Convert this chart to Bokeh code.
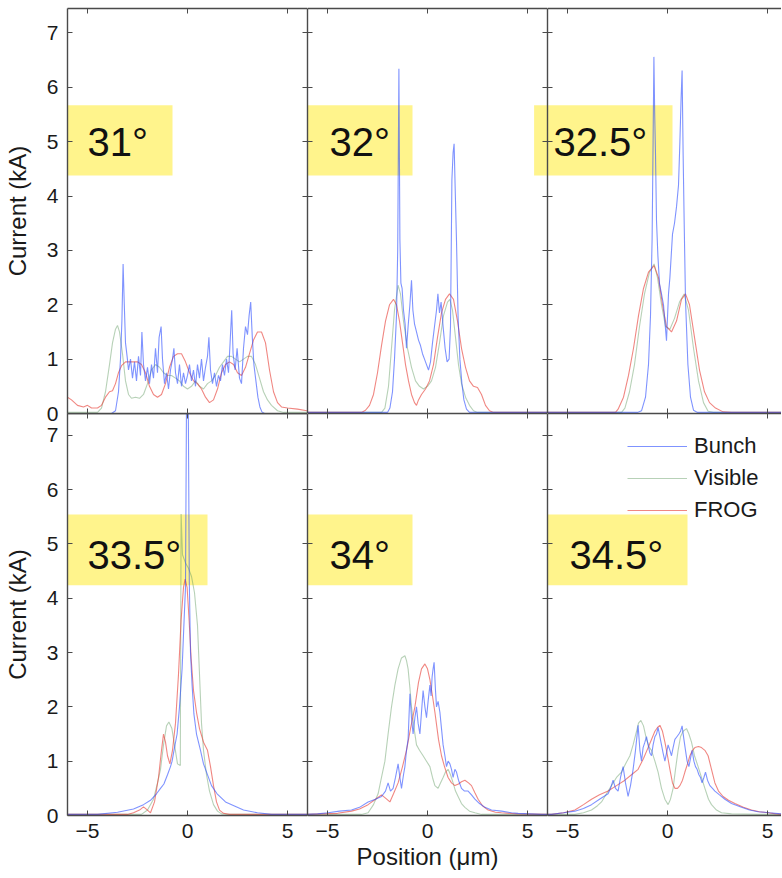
from bokeh.plotting import figure
from bokeh.models import (Range1d, LinearAxis, FixedTicker, BoxAnnotation, Label,
                          Legend, LegendItem, GridBox)
from bokeh.embed import file_html
from bokeh.resources import INLINE

# ---------------- data (position um, current kA) ----------------
angles = ["31°", "32°", "32.5°", "33.5°", "34°", "34.5°"]
series_names = ["Bunch", "Visible", "FROG"]
x_ticks = [-5, 0, 5]
y_ticks = [0, 1, 2, 3, 4, 5, 6, 7]

bunch_31 = [(-6.0, 0.0), (-3.8, 0.0), (-3.6, 0.05), (-3.45, 0.4), (-3.35, 1.0), (-3.28, 1.7), (-3.22, 2.75),
            (-3.16, 2.0), (-3.1, 1.3), (-3.02, 1.05), (-2.95, 0.8), (-2.85, 1.0), (-2.75, 0.65), (-2.65, 0.95),
            (-2.55, 0.6), (-2.45, 1.05), (-2.35, 0.7), (-2.28, 1.5), (-2.2, 0.9), (-2.1, 0.6), (-2.0, 0.85),
            (-1.9, 0.55), (-1.8, 0.9), (-1.7, 0.65), (-1.6, 1.2), (-1.5, 0.75), (-1.42, 1.4), (-1.32, 1.6),
            (-1.25, 1.0), (-1.15, 0.55), (-1.05, 0.75), (-0.95, 0.45), (-0.85, 0.8), (-0.75, 1.0), (-0.68, 1.2),
            (-0.6, 0.75), (-0.5, 0.55), (-0.4, 0.9), (-0.3, 0.5), (-0.2, 0.75), (-0.1, 0.55), (0.0, 0.7),
            (0.1, 0.9), (0.2, 0.6), (0.3, 0.8), (0.4, 0.5), (0.5, 0.9), (0.6, 0.65), (0.7, 1.0), (0.8, 0.6),
            (0.9, 0.85), (1.0, 1.05), (1.07, 1.4), (1.15, 0.8), (1.25, 0.55), (1.35, 0.75), (1.45, 0.5),
            (1.55, 0.7), (1.65, 0.6), (1.75, 0.9), (1.85, 0.7), (1.95, 1.0), (2.05, 0.75), (2.13, 1.3),
            (2.21, 1.9), (2.28, 1.1), (2.38, 0.8), (2.48, 1.2), (2.6, 0.65), (2.7, 0.55), (2.8, 1.2),
            (2.9, 1.6), (3.0, 1.45), (3.08, 1.8), (3.16, 2.05), (3.24, 1.4), (3.32, 0.9), (3.42, 0.6),
            (3.52, 0.3), (3.62, 0.12), (3.72, 0.03), (3.85, 0.0), (6.0, 0.0)]
visible_31 = [(-6.0, 0.02), (-4.5, 0.02), (-4.3, 0.1), (-4.1, 0.4), (-3.9, 0.9), (-3.75, 1.3), (-3.6, 1.55),
              (-3.5, 1.62), (-3.4, 1.5), (-3.25, 1.1), (-3.1, 0.6), (-2.95, 0.35), (-2.8, 0.28), (-2.6, 0.3),
              (-2.4, 0.28), (-2.2, 0.35), (-2.0, 0.55), (-1.8, 0.8), (-1.6, 0.9), (-1.4, 0.85), (-1.2, 0.75),
              (-1.0, 0.7), (-0.8, 0.7), (-0.6, 0.65), (-0.4, 0.6), (-0.2, 0.5), (0.0, 0.45), (0.2, 0.5),
              (0.4, 0.6), (0.6, 0.5), (0.8, 0.45), (1.0, 0.55), (1.2, 0.6), (1.4, 0.7), (1.6, 0.85),
              (1.8, 0.95), (2.0, 1.05), (2.2, 1.05), (2.4, 1.0), (2.6, 0.95), (2.8, 1.0), (3.0, 1.05),
              (3.2, 1.05), (3.4, 0.9), (3.6, 0.65), (3.8, 0.4), (4.0, 0.25), (4.2, 0.15), (4.5, 0.05),
              (4.8, 0.02), (6.0, 0.02)]
frog_31 = [(-6.0, 0.3), (-5.8, 0.25), (-5.5, 0.15), (-5.2, 0.12), (-5.0, 0.15), (-4.8, 0.1), (-4.5, 0.1),
           (-4.3, 0.15), (-4.1, 0.3), (-3.9, 0.4), (-3.75, 0.42), (-3.6, 0.55), (-3.45, 0.75), (-3.3, 0.88),
           (-3.1, 0.95), (-2.8, 0.95), (-2.5, 0.95), (-2.3, 0.9), (-2.1, 0.75), (-1.9, 0.5), (-1.7, 0.35),
           (-1.5, 0.3), (-1.3, 0.35), (-1.1, 0.55), (-0.9, 0.85), (-0.7, 1.05), (-0.5, 1.1), (-0.3, 1.1),
           (-0.1, 0.95), (0.1, 0.75), (0.3, 0.6), (0.5, 0.55), (0.7, 0.45), (0.9, 0.3), (1.1, 0.2),
           (1.3, 0.25), (1.5, 0.45), (1.7, 0.75), (1.9, 0.9), (2.1, 0.95), (2.3, 0.9), (2.5, 0.75),
           (2.7, 0.7), (2.9, 0.85), (3.1, 1.1), (3.3, 1.35), (3.5, 1.5), (3.7, 1.5), (3.9, 1.3), (4.1, 0.8),
           (4.3, 0.4), (4.5, 0.2), (4.7, 0.12), (5.0, 0.1), (5.5, 0.08), (6.0, 0.05)]

bunch_32 = [(-6.0, 0.02), (-2.0, 0.02), (-1.88, 0.1), (-1.75, 0.4), (-1.65, 1.0), (-1.55, 1.8), (-1.49, 3.0),
            (-1.43, 6.34), (-1.38, 3.2), (-1.33, 2.4), (-1.27, 2.3), (-1.2, 1.9), (-1.12, 1.65), (-1.05, 1.2),
            (-0.97, 1.6), (-0.88, 2.0), (-0.8, 2.45), (-0.73, 1.9), (-0.65, 1.65), (-0.55, 1.5), (-0.45, 1.35),
            (-0.35, 1.25), (-0.25, 1.1), (-0.15, 1.0), (-0.05, 0.9), (0.05, 0.8), (0.15, 0.95), (0.25, 1.3),
            (0.35, 1.6), (0.45, 1.9), (0.52, 2.2), (0.6, 1.85), (0.68, 2.05), (0.78, 1.6), (0.88, 1.2),
            (0.98, 0.95), (1.08, 1.0), (1.15, 1.6), (1.22, 4.3), (1.28, 4.8), (1.33, 4.96), (1.38, 4.2),
            (1.45, 3.18), (1.53, 1.77), (1.62, 1.0), (1.72, 0.55), (1.82, 0.25), (1.95, 0.08), (2.1, 0.02),
            (6.0, 0.02)]
visible_32 = [(-6.0, 0.02), (-2.3, 0.02), (-2.13, 0.1), (-1.95, 0.5), (-1.8, 1.2), (-1.65, 1.9), (-1.47, 2.36),
              (-1.35, 2.2), (-1.2, 1.7), (-1.0, 1.2), (-0.8, 0.85), (-0.6, 0.6), (-0.4, 0.5), (-0.2, 0.45),
              (0.0, 0.5), (0.2, 0.6), (0.4, 0.85), (0.6, 1.3), (0.8, 1.8), (1.0, 2.05), (1.12, 2.1),
              (1.25, 1.9), (1.4, 1.4), (1.55, 0.9), (1.7, 0.55), (1.9, 0.3), (2.1, 0.15), (2.3, 0.05),
              (2.5, 0.02), (6.0, 0.02)]
frog_32 = [(-6.0, 0.02), (-3.3, 0.02), (-3.1, 0.06), (-2.9, 0.15), (-2.7, 0.35), (-2.5, 0.75), (-2.3, 1.25),
           (-2.1, 1.7), (-1.9, 2.0), (-1.7, 2.1), (-1.55, 2.0), (-1.4, 1.7), (-1.25, 1.3), (-1.1, 0.9),
           (-0.95, 0.6), (-0.8, 0.35), (-0.65, 0.2), (-0.55, 0.15), (-0.45, 0.25), (-0.3, 0.35), (-0.1, 0.45),
           (0.1, 0.6), (0.3, 0.9), (0.5, 1.4), (0.7, 1.85), (0.9, 2.1), (1.1, 2.2), (1.3, 2.1), (1.5, 1.7),
           (1.7, 1.2), (1.9, 0.85), (2.1, 0.6), (2.3, 0.5), (2.5, 0.48), (2.7, 0.35), (2.9, 0.15),
           (3.1, 0.05), (3.3, 0.02), (6.0, 0.02)]

bunch_325 = [(-6.0, 0.02), (-1.5, 0.02), (-1.3, 0.05), (-1.1, 0.3), (-0.95, 0.9), (-0.85, 1.8), (-0.77, 3.2),
             (-0.72, 5.0), (-0.68, 6.56), (-0.64, 5.5), (-0.6, 4.78), (-0.55, 3.55), (-0.48, 2.9), (-0.4, 2.39),
             (-0.3, 2.2), (-0.2, 2.0), (-0.05, 1.34), (0.05, 2.2), (0.12, 2.5), (0.25, 3.3), (0.35, 3.5),
             (0.45, 3.8), (0.55, 4.2), (0.62, 5.0), (0.68, 5.8), (0.73, 6.31), (0.78, 4.8), (0.83, 3.6),
             (0.9, 2.08), (1.02, 0.9), (1.15, 0.3), (1.3, 0.06), (1.5, 0.02), (6.0, 0.02)]
visible_325 = [(-6.0, 0.02), (-2.3, 0.02), (-2.13, 0.1), (-1.9, 0.4), (-1.65, 0.9), (-1.4, 1.6), (-1.15, 2.2),
               (-0.9, 2.6), (-0.67, 2.75), (-0.5, 2.5), (-0.3, 2.0), (-0.1, 1.6), (0.12, 1.55), (0.35, 1.75),
               (0.6, 2.05), (0.83, 2.2), (1.05, 1.9), (1.3, 1.2), (1.55, 0.6), (1.8, 0.2), (2.03, 0.04),
               (2.3, 0.02), (6.0, 0.02)]
frog_325 = [(-6.0, 0.02), (-2.6, 0.02), (-2.47, 0.08), (-2.2, 0.3), (-1.95, 0.7), (-1.7, 1.2), (-1.45, 1.8),
            (-1.2, 2.3), (-0.95, 2.6), (-0.67, 2.72), (-0.45, 2.5), (-0.25, 2.0), (-0.05, 1.6), (0.2, 1.5),
            (0.45, 1.7), (0.7, 2.1), (0.9, 2.2), (1.1, 2.0), (1.35, 1.4), (1.6, 0.8), (1.85, 0.4), (2.1, 0.2),
            (2.4, 0.1), (2.78, 0.03), (3.2, 0.02), (6.0, 0.02)]

bunch_335 = [(-6.0, 0.02), (-4.5, 0.02), (-3.5, 0.06), (-2.7, 0.12), (-2.2, 0.2), (-1.85, 0.28), (-1.55, 0.4),
             (-1.35, 0.5), (-1.18, 0.58), (-1.0, 0.75), (-0.85, 0.9), (-0.77, 1.0), (-0.65, 1.25), (-0.52, 1.5),
             (-0.4, 2.0), (-0.27, 2.7), (-0.17, 3.6), (-0.1, 4.2), (-0.05, 7.6), (0.03, 8.2), (0.09, 4.3),
             (0.15, 3.0), (0.23, 2.4), (0.32, 1.87), (0.45, 1.5), (0.65, 1.2), (0.8, 0.95), (0.98, 0.77),
             (1.2, 0.55), (1.48, 0.4), (1.9, 0.25), (2.32, 0.18), (2.8, 0.1), (3.5, 0.05), (4.2, 0.02),
             (6.0, 0.02)]
visible_335 = [(-6.0, 0.02), (-2.3, 0.02), (-2.0, 0.1), (-1.7, 0.3), (-1.5, 0.6), (-1.35, 0.85), (-1.2, 1.3),
               (-1.05, 1.65), (-0.93, 1.72), (-0.78, 1.6), (-0.65, 1.3), (-0.5, 0.95), (-0.36, 0.92),
               (-0.32, 5.55), (-0.25, 4.8), (-0.1, 4.65), (0.05, 4.55), (0.2, 4.4), (0.35, 4.1), (0.5, 3.5),
               (0.6, 2.6), (0.7, 1.7), (0.8, 1.2), (0.95, 0.75), (1.1, 0.45), (1.3, 0.2), (1.5, 0.08),
               (1.7, 0.03), (2.0, 0.02), (6.0, 0.02)]
frog_335 = [(-6.0, 0.02), (-3.0, 0.02), (-2.7, 0.05), (-2.4, 0.1), (-2.2, 0.16), (-2.0, 0.1), (-1.85, 0.05),
            (-1.65, 0.25), (-1.45, 0.7), (-1.3, 1.2), (-1.2, 1.5), (-1.1, 1.35), (-1.0, 1.1), (-0.88, 0.95),
            (-0.75, 1.2), (-0.6, 1.7), (-0.45, 2.6), (-0.32, 3.6), (-0.2, 4.2), (-0.12, 4.35), (-0.02, 4.2),
            (0.08, 3.6), (0.18, 2.9), (0.3, 2.3), (0.45, 1.9), (0.6, 1.6), (0.8, 1.35), (1.0, 1.2),
            (1.15, 0.9), (1.3, 0.55), (1.45, 0.25), (1.6, 0.1), (1.8, 0.04), (2.1, 0.02), (6.0, 0.02)]

bunch_34 = [(-6.0, 0.02), (-5.5, 0.03), (-4.97, 0.05), (-4.4, 0.08), (-3.8, 0.1), (-3.4, 0.15), (-2.97, 0.25),
            (-2.6, 0.3), (-2.3, 0.35), (-2.1, 0.45), (-1.97, 0.6), (-1.85, 0.45), (-1.72, 0.5), (-1.6, 0.7),
            (-1.47, 0.95), (-1.38, 0.7), (-1.3, 0.5), (-1.2, 0.75), (-1.13, 0.9), (-1.05, 1.2), (-0.97, 1.4),
            (-0.88, 2.24), (-0.8, 1.8), (-0.72, 1.5), (-0.63, 1.8), (-0.55, 2.0), (-0.47, 1.7), (-0.38, 1.5),
            (-0.3, 1.9), (-0.22, 2.3), (-0.13, 2.0), (-0.05, 1.8), (0.03, 2.1), (0.12, 2.4), (0.18, 2.2),
            (0.23, 2.55), (0.28, 2.7), (0.33, 2.82), (0.4, 2.3), (0.45, 2.0), (0.53, 2.1), (0.62, 1.9),
            (0.7, 1.6), (0.78, 1.3), (0.87, 1.1), (0.95, 0.9), (1.03, 1.0), (1.12, 0.95), (1.2, 0.85),
            (1.28, 0.7), (1.37, 0.85), (1.45, 0.8), (1.55, 0.65), (1.7, 0.5), (1.85, 0.45), (2.03, 0.45),
            (2.2, 0.38), (2.37, 0.3), (2.6, 0.22), (2.87, 0.15), (3.2, 0.1), (3.7, 0.08), (4.2, 0.05),
            (4.53, 0.04), (5.1, 0.03), (5.7, 0.02), (6.0, 0.02)]
visible_34 = [(-6.0, 0.02), (-3.3, 0.02), (-2.97, 0.05), (-2.7, 0.2), (-2.47, 0.4), (-2.3, 0.7), (-2.13, 1.0),
              (-1.97, 1.5), (-1.8, 2.0), (-1.63, 2.4), (-1.47, 2.7), (-1.3, 2.9), (-1.13, 2.94), (-1.05, 2.85),
              (-0.97, 2.7), (-0.88, 2.35), (-0.8, 2.0), (-0.65, 1.55), (-0.55, 1.3), (-0.4, 1.2), (-0.22, 1.1),
              (-0.05, 1.0), (0.12, 0.9), (0.25, 0.7), (0.37, 0.55), (0.53, 0.5), (0.65, 0.6), (0.78, 0.7),
              (0.9, 0.8), (1.03, 0.85), (1.15, 0.75), (1.28, 0.6), (1.4, 0.45), (1.53, 0.35), (1.7, 0.22),
              (1.87, 0.15), (2.1, 0.08), (2.37, 0.05), (2.7, 0.02), (6.0, 0.02)]
frog_34 = [(-6.0, 0.02), (-4.5, 0.04), (-3.8, 0.08), (-3.4, 0.12), (-2.97, 0.2), (-2.6, 0.3), (-2.3, 0.38),
           (-2.1, 0.32), (-1.88, 0.25), (-1.7, 0.4), (-1.47, 0.6), (-1.25, 0.9), (-1.05, 1.2), (-0.85, 1.6),
           (-0.63, 2.0), (-0.45, 2.45), (-0.3, 2.7), (-0.13, 2.79), (0.0, 2.7), (0.12, 2.5), (0.25, 2.2),
           (0.37, 1.9), (0.55, 1.4), (0.7, 1.1), (0.85, 0.9), (1.03, 0.7), (1.2, 0.6), (1.37, 0.55),
           (1.55, 0.58), (1.7, 0.62), (1.87, 0.65), (2.05, 0.6), (2.2, 0.55), (2.37, 0.42), (2.53, 0.3),
           (2.75, 0.18), (3.03, 0.1), (3.4, 0.06), (3.7, 0.05), (4.5, 0.03), (6.0, 0.02)]

bunch_345 = [(-6.0, 0.02), (-5.8, 0.02), (-5.2, 0.05), (-4.63, 0.08), (-4.2, 0.13), (-3.8, 0.2), (-3.4, 0.3),
             (-2.97, 0.4), (-2.85, 0.5), (-2.72, 0.65), (-2.6, 0.5), (-2.47, 0.45), (-2.35, 0.7), (-2.22, 0.9),
             (-2.1, 0.6), (-1.97, 0.35), (-1.85, 0.55), (-1.72, 0.85), (-1.6, 1.2), (-1.47, 1.66), (-1.38, 1.2),
             (-1.3, 1.0), (-1.22, 1.25), (-1.13, 1.35), (-1.05, 1.45), (-0.97, 1.3), (-0.88, 1.15), (-0.8, 1.1),
             (-0.72, 1.3), (-0.63, 1.45), (-0.55, 1.5), (-0.47, 1.62), (-0.38, 1.45), (-0.3, 1.3), (-0.22, 1.15),
             (-0.13, 1.0), (-0.05, 1.15), (0.03, 1.3), (0.12, 1.2), (0.2, 1.1), (0.28, 1.25), (0.37, 1.4),
             (0.47, 1.45), (0.57, 1.5), (0.65, 1.55), (0.73, 1.65), (0.82, 1.4), (0.9, 1.2), (0.98, 1.0),
             (1.07, 0.9), (1.15, 1.05), (1.23, 1.2), (1.32, 1.0), (1.4, 0.9), (1.48, 0.85), (1.57, 0.75),
             (1.65, 0.7), (1.73, 0.6), (1.82, 0.7), (1.9, 0.8), (2.0, 0.65), (2.12, 0.55), (2.25, 0.5),
             (2.37, 0.45), (2.6, 0.38), (2.87, 0.3), (3.2, 0.22), (3.7, 0.15), (4.1, 0.1), (4.53, 0.07),
             (5.1, 0.05), (5.7, 0.03), (6.0, 0.02)]
visible_345 = [(-6.0, 0.02), (-4.63, 0.02), (-4.2, 0.05), (-3.8, 0.1), (-3.5, 0.18), (-3.3, 0.25), (-3.05, 0.4),
               (-2.8, 0.55), (-2.55, 0.7), (-2.3, 0.8), (-2.1, 0.95), (-1.88, 1.1), (-1.72, 1.3), (-1.55, 1.55),
               (-1.45, 1.7), (-1.33, 1.75), (-1.2, 1.65), (-1.05, 1.4), (-0.9, 1.25), (-0.8, 1.2), (-0.63, 1.0),
               (-0.47, 0.8), (-0.3, 0.5), (-0.13, 0.3), (0.03, 0.2), (0.15, 0.3), (0.28, 0.5), (0.4, 0.85),
               (0.53, 1.2), (0.65, 1.45), (0.78, 1.55), (0.95, 1.6), (1.07, 1.5), (1.2, 1.35), (1.35, 1.1),
               (1.53, 0.9), (1.7, 0.7), (1.87, 0.5), (2.05, 0.3), (2.2, 0.2), (2.45, 0.1), (2.7, 0.05),
               (3.2, 0.03), (4.53, 0.02), (6.0, 0.02)]
frog_345 = [(-6.0, 0.02), (-5.8, 0.02), (-5.2, 0.05), (-4.63, 0.1), (-4.2, 0.2), (-3.8, 0.3), (-3.4, 0.38),
            (-2.97, 0.45), (-2.55, 0.55), (-2.13, 0.65), (-1.8, 0.75), (-1.47, 0.85), (-1.2, 1.05), (-0.97, 1.25),
            (-0.8, 1.4), (-0.63, 1.55), (-0.5, 1.62), (-0.38, 1.66), (-0.25, 1.55), (-0.13, 1.35), (0.0, 1.1),
            (0.12, 0.85), (0.25, 0.6), (0.37, 0.5), (0.5, 0.5), (0.62, 0.55), (0.75, 0.65), (0.87, 0.8),
            (1.0, 0.95), (1.12, 1.1), (1.25, 1.2), (1.37, 1.25), (1.55, 1.27), (1.7, 1.25), (1.87, 1.2),
            (2.03, 1.1), (2.2, 0.85), (2.37, 0.6), (2.55, 0.45), (2.78, 0.35), (3.05, 0.28), (3.37, 0.22),
            (3.8, 0.15), (4.2, 0.1), (4.6, 0.07), (5.03, 0.05), (5.4, 0.03), (5.7, 0.02), (6.0, 0.02)]

panel_data = [
    (bunch_31, visible_31, frog_31),
    (bunch_32, visible_32, frog_32),
    (bunch_325, visible_325, frog_325),
    (bunch_335, visible_335, frog_335),
    (bunch_34, visible_34, frog_34),
    (bunch_345, visible_345, frog_345),
]

# ---------------- styling / layout ----------------
FONT = "Liberation Sans"
BORDER = "#4a4a4a"
BLUE, GREEN, RED = "#2a4bff", "#5f9a5f", "#e8463f"
YELLOW = "#fff48c"

FRAME_W = [240, 240, 234]
FRAME_H = [405, 402]
LEFT_BORDER = 67
TOP_BORDER = 8
BOTTOM_BORDER = 61
OVERLAP = 10
X_SPAN = 12.0
Y_TOP = [7.45, 7.4]

# label box geometry per panel: (box right edge, box bottom, box top, text x, text y)
label_boxes = [
    (-0.75, 4.38, 5.67, -5.0, 5.0),
    (-0.75, 4.38, 5.67, -4.9, 5.0),
    (0.25, 4.38, 5.67, -5.7, 5.0),
    (1.0, 4.24, 5.54, -5.0, 4.79),
    (-0.75, 4.24, 5.54, -4.9, 4.79),
    (1.0, 4.24, 5.54, -4.9, 4.79),
]


def add_axis(p, side, ticks, show_labels=False, label=None, line=True):
    ax = LinearAxis(ticker=FixedTicker(ticks=ticks))
    ax.major_tick_in = 5
    ax.major_tick_out = 0
    ax.major_tick_line_color = BORDER
    ax.major_tick_line_width = 1
    ax.minor_tick_line_color = None
    ax.axis_line_color = BORDER if line else None
    ax.axis_line_width = 1.4
    if show_labels:
        ax.major_label_text_font = FONT
        ax.major_label_text_font_size = "21px"
        ax.major_label_text_color = "#1a1a1a"
        ax.major_label_standoff = 8 if side in ("below", "above") else 9
    else:
        ax.major_label_overrides = {t: "" for t in ticks}
        ax.major_label_text_font_size = "0px"
        ax.major_label_standoff = 0
    if label:
        ax.axis_label = label
        ax.axis_label_text_font = FONT
        ax.axis_label_text_font_size = "24px"
        ax.axis_label_text_font_style = "normal"
        ax.axis_label_text_color = "#1a1a1a"
        ax.axis_label_standoff = 2 if side == "below" else 13
    p.add_layout(ax, side)
    return ax


figs = {}
for idx in range(6):
    row, col = divmod(idx, 3)
    fw, fh = FRAME_W[col], FRAME_H[row]
    bl = LEFT_BORDER if col == 0 else 0
    bt = TOP_BORDER if row == 0 else 0
    if row == 1:
        bb = BOTTOM_BORDER
    elif col == 0:
        bb = OVERLAP
    else:
        bb = 0
    px_per_um = FRAME_W[0] / X_SPAN
    x_end = -6 + fw / px_per_um
    p = figure(width=bl + fw, height=bt + fh + bb,
               x_range=Range1d(-6, x_end), y_range=Range1d(0, Y_TOP[row]),
               output_backend="svg", toolbar_location=None,
               x_axis_location=None, y_axis_location=None,
               min_border_left=bl, min_border_right=0, min_border_top=bt, min_border_bottom=bb,
               outline_line_color=None, background_fill_color="white",
               border_fill_color=None if (row == 0 and col == 0) else "white")
    p.grid.visible = False

    # axes (inward ticks on every side, MATLAB style)
    add_axis(p, "left", y_ticks, show_labels=(col == 0),
             label="Current (kA)" if col == 0 else None)
    if col < 2:
        add_axis(p, "right", y_ticks)
    add_axis(p, "above", x_ticks)
    add_axis(p, "below", x_ticks, show_labels=(row == 1),
             label="Position (μm)" if (row == 1 and col == 1) else None)

    # yellow angle label box
    bx_r, bx_b, bx_t, tx, ty = label_boxes[idx]
    p.add_layout(BoxAnnotation(left=-6, right=bx_r, bottom=bx_b, top=bx_t,
                               fill_color=YELLOW, fill_alpha=1.0, line_color=None,
                               level="underlay"))
    # the 32.5° box spills left into the 32° panel
    if idx == 1:
        r2, b2, t2, _, _ = label_boxes[2]
        p.add_layout(BoxAnnotation(left=5.33, right=6.5, bottom=b2, top=t2,
                                   fill_color=YELLOW, fill_alpha=1.0, line_color=None,
                                   level="underlay"))

    bunch, visible, frog = panel_data[idx]
    vx, vy = zip(*visible)
    fx, fy = zip(*frog)
    bxs, bys = zip(*bunch)
    r_vis = p.line(list(vx), list(vy), line_color=GREEN, line_width=1.1, line_alpha=0.45)
    r_frog = p.line(list(fx), list(fy), line_color=RED, line_width=1.1, line_alpha=0.65)
    r_bunch = p.line(list(bxs), list(bys), line_color=BLUE, line_width=1.1, line_alpha=0.6)

    p.add_layout(Label(x=tx, y=ty, text=angles[idx], text_font=FONT, text_font_size="40px",
                       text_baseline="middle", text_align="left", text_color="#111111"))

    if idx == 5:
        legend = Legend(items=[LegendItem(label=series_names[0], renderers=[r_bunch]),
                               LegendItem(label=series_names[1], renderers=[r_vis]),
                               LegendItem(label=series_names[2], renderers=[r_frog])],
                        location=(80, 291), orientation="vertical",
                        label_text_font=FONT, label_text_font_size="22px",
                        label_text_color="#1a1a1a",
                        glyph_width=60, glyph_height=28, label_height=28,
                        label_standoff=7, spacing=4, padding=3, margin=0,
                        border_line_color=None, background_fill_alpha=0.0)
        p.add_layout(legend)
    figs[(row, col)] = p

children = [
    (figs[(1, 0)], 1, 0, 2, 1),
    (figs[(1, 1)], 1, 1, 2, 1),
    (figs[(1, 2)], 1, 2, 2, 1),
    (figs[(0, 1)], 0, 1, 1, 1),
    (figs[(0, 2)], 0, 2, 1, 1),
    (figs[(0, 0)], 0, 0, 2, 1),
]
grid = GridBox(children=children,
               rows=[f"{TOP_BORDER + FRAME_H[0]}px", f"{OVERLAP}px",
                     f"{FRAME_H[1] + BOTTOM_BORDER - OVERLAP}px"],
               cols=[f"{LEFT_BORDER + FRAME_W[0]}px", f"{FRAME_W[1]}px", f"{FRAME_W[2]}px"],
               spacing=0)

open("out.html", "w").write(file_html(grid, INLINE))
